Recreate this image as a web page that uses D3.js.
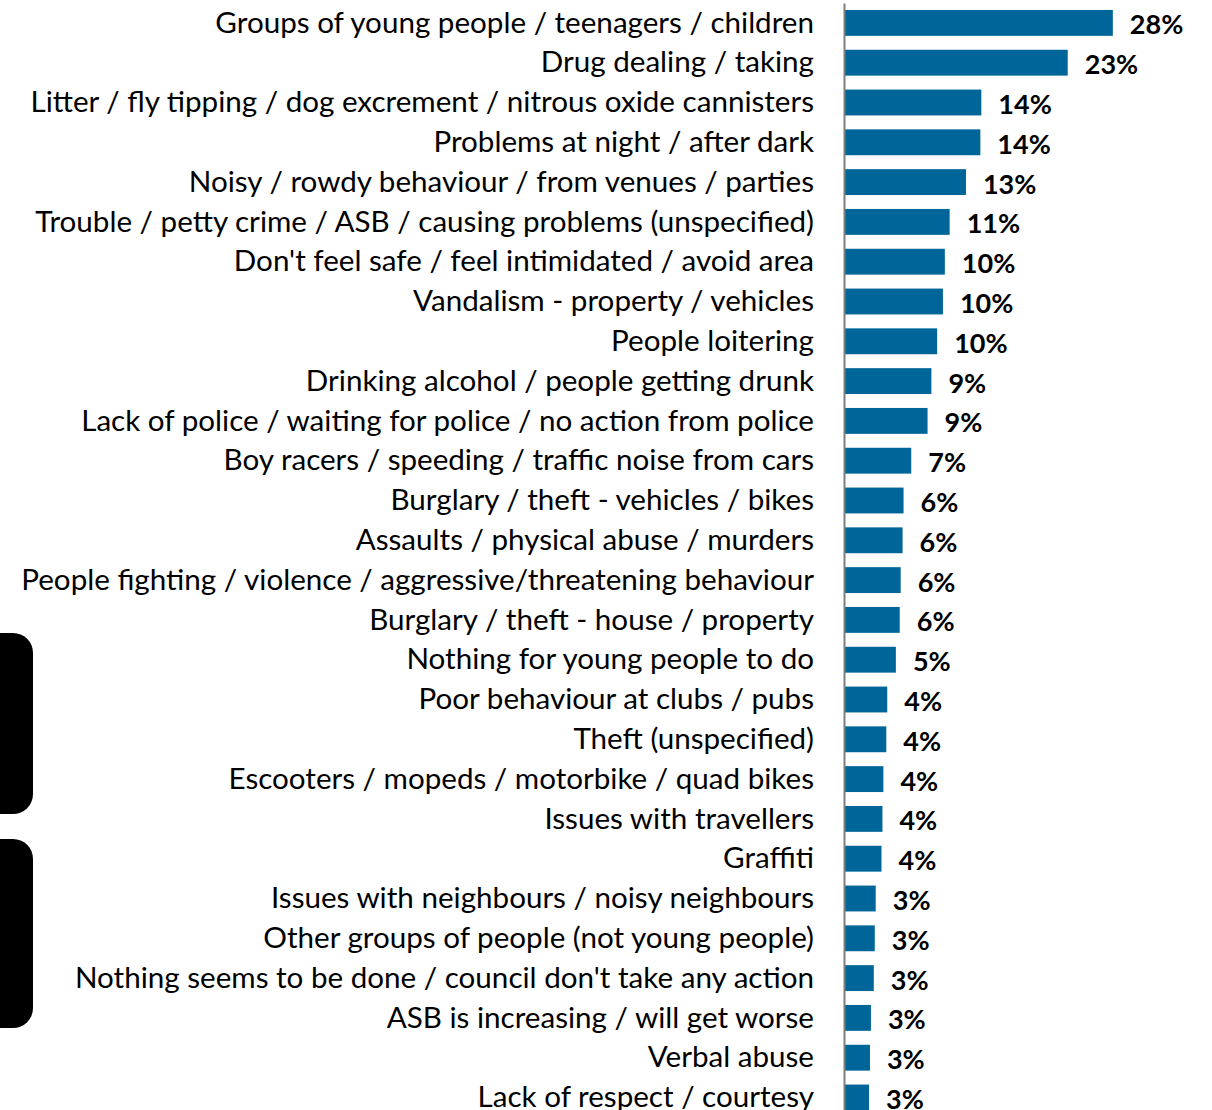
<!DOCTYPE html>
<html>
<head>
<meta charset="utf-8">
<script src="https://cdn.jsdelivr.net/npm/d3@7"></script>
<style>
  body { margin: 0; background: #fff; }
  svg { display: block; }
  .axis path { stroke: #7f7f7f; stroke-width: 2; }
  .axis text { font-family: Lato, "Open Sans", sans-serif; font-size: 29.6px; fill: #000; }
  .val { font-family: Lato, "Open Sans", sans-serif; font-size: 27px; font-weight: bold; fill: #000; }
</style>
</head>
<body>
<svg></svg>
<script>
// categories, top to bottom
var categories = [
  "Groups of young people / teenagers / children",
  "Drug dealing / taking",
  "Litter / fly tipping / dog excrement / nitrous oxide cannisters",
  "Problems at night / after dark",
  "Noisy / rowdy behaviour / from venues / parties",
  "Trouble / petty crime / ASB / causing problems (unspecified)",
  "Don't feel safe / feel intimidated / avoid area",
  "Vandalism - property / vehicles",
  "People loitering",
  "Drinking alcohol / people getting drunk",
  "Lack of police / waiting for police / no action from police",
  "Boy racers / speeding / traffic noise from cars",
  "Burglary / theft - vehicles / bikes",
  "Assaults / physical abuse / murders",
  "People fighting / violence / aggressive/threatening behaviour",
  "Burglary / theft - house / property",
  "Nothing for young people to do",
  "Poor behaviour at clubs / pubs",
  "Theft (unspecified)",
  "Escooters / mopeds / motorbike / quad bikes",
  "Issues with travellers",
  "Graffiti",
  "Issues with neighbours / noisy neighbours",
  "Other groups of people (not young people)",
  "Nothing seems to be done / council don't take any action",
  "ASB is increasing / will get worse",
  "Verbal abuse",
  "Lack of respect / courtesy"
];
// % of respondents
var values = [27.9, 23.2, 14.2, 14.1, 12.6, 10.9, 10.4, 10.2, 9.6, 9.0, 8.6, 6.9,
              6.1, 6.0, 5.8, 5.7, 5.3, 4.4, 4.3, 4.0, 3.9, 3.8, 3.2, 3.1, 3.0, 2.7, 2.6, 2.5];

var data = categories.map(function(c, i) { return {cat: c, v: values[i]}; });

var W = 1212, H = 1110;
var svg = d3.select("svg").attr("width", W).attr("height", H);

// odd black rounded blocks at the left edge of the source image
var blocks = [[633, 814], [839, 1028]];
svg.selectAll(".blk")
  .data(blocks)
  .enter().append("rect")
  .attr("class", "blk")
  .attr("x", -25).attr("width", 58)
  .attr("y", function(d) { return d[0]; })
  .attr("height", function(d) { return d[1] - d[0]; })
  .attr("rx", 20).attr("ry", 20)
  .attr("fill", "#000");

var x0 = 845;
var x = d3.scaleLinear().domain([0, 30]).range([x0, x0 + 288]);
var y = d3.scaleBand()
  .domain(categories)
  .range([3, 3 + 28 * 39.8])
  .paddingInner(0.35)
  .paddingOuter(0.175);

svg.selectAll(".bar")
  .data(data)
  .enter().append("rect")
  .attr("class", "bar")
  .attr("x", x(0))
  .attr("y", function(d) { return y(d.cat); })
  .attr("width", function(d) { return x(d.v) - x(0); })
  .attr("height", y.bandwidth())
  .attr("fill", "#006699");

svg.selectAll(".val")
  .data(data)
  .enter().append("text")
  .attr("class", "val")
  .attr("x", function(d) { return x(d.v) + 17; })
  .attr("y", function(d) { return y(d.cat) + y.bandwidth() / 2 + 2; })
  .attr("dy", "0.35em")
  .text(function(d) { return Math.round(d.v) + "%"; });

svg.append("g")
  .attr("class", "axis")
  .attr("transform", "translate(844,0)")
  .call(d3.axisLeft(y).tickSize(0).tickPadding(30))
  .selectAll("text")
  .attr("dy", "0.33em");
</script>
</body>
</html>
